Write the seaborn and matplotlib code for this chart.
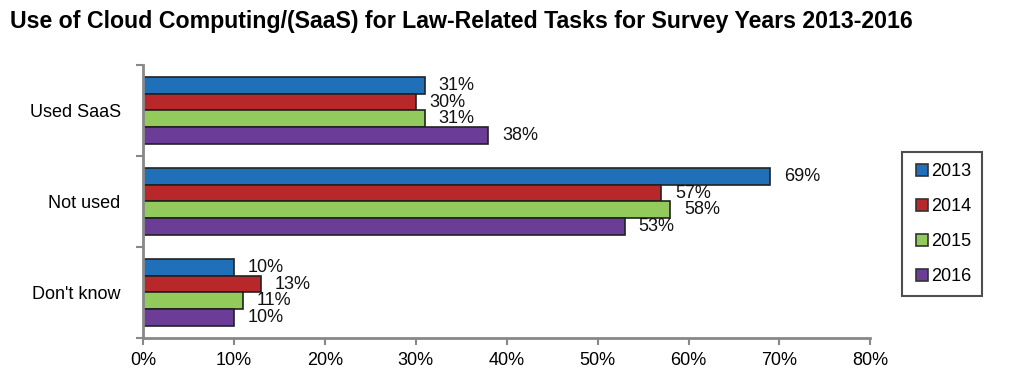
import matplotlib
matplotlib.use("Agg")
import matplotlib.pyplot as plt
from matplotlib.lines import Line2D
from matplotlib.ticker import FuncFormatter, FixedLocator
import pandas as pd
import seaborn as sns

categories = ["Used SaaS", "Not used", "Don't know"]
years = ["2013", "2014", "2015", "2016"]
values_2013 = [31, 69, 10]
values_2014 = [30, 57, 13]
values_2015 = [31, 58, 11]
values_2016 = [38, 53, 10]
colors = ["#1F70B8", "#B8272A", "#92CB5C", "#6B3D97"]

rows = []
for yr, vals in zip(years, [values_2013, values_2014, values_2015, values_2016]):
    for cat, v in zip(categories, vals):
        rows.append({"answer": cat, "year": yr, "pct": v})
df = pd.DataFrame(rows)

sns.set_style("white")
plt.rcParams["font.family"] = ["Liberation Sans", "DejaVu Sans"]
plt.rcParams["text.color"] = "black"
plt.rcParams["xtick.labelcolor"] = "black"
plt.rcParams["ytick.labelcolor"] = "black"

fig = plt.figure(figsize=(10.16, 3.84), dpi=100)
ax = fig.add_axes([0.1407, 0.12, 0.716, 0.711])

sns.barplot(data=df, x="pct", y="answer", hue="year", order=categories,
            hue_order=years, palette=colors, saturation=1, width=0.73, orient="h",
            edgecolor="#222222", linewidth=1.2, legend=False, ax=ax)

for cont in ax.containers:
    ax.bar_label(cont, labels=[f"{v:.0f}%" for v in cont.datavalues],
                 padding=10, fontsize=13, color="#111111")

ax.set_xlim(0, 80)
ax.set_ylim(2.5, -0.5)
ax.set_xticks(range(0, 81, 10))
ax.xaxis.set_major_formatter(FuncFormatter(lambda v, p: f"{v:.0f}%"))
ax.set_xlabel("")
ax.set_ylabel("")

ax.tick_params(axis="y", which="major", length=0, pad=16, labelsize=13)
ax.yaxis.set_minor_locator(FixedLocator([-0.5, 0.5, 1.5, 2.5]))
ax.tick_params(axis="y", which="minor", length=5, width=1.5, color="#888888", direction="out", left=True)
ax.tick_params(axis="x", length=5, width=1.5, color="#888888", direction="out", bottom=True, labelsize=13, pad=5)

for side in ["top", "right"]:
    ax.spines[side].set_visible(False)
for side in ["left", "bottom"]:
    ax.spines[side].set_color("#888888")
    ax.spines[side].set_linewidth(2)

handles = [Line2D([0], [0], marker="s", linestyle="", markersize=9,
                  markerfacecolor=c, markeredgecolor="#333333", markeredgewidth=1.2)
           for c in colors]
leg = fig.legend(handles, years, loc="upper left", bbox_to_anchor=(0.888, 0.604),
                 fontsize=13, frameon=True, fancybox=False, edgecolor="#222222",
                 labelspacing=1.0, handletextpad=0.0, handlelength=1.0,
                 borderpad=0.6, borderaxespad=0)
leg.get_frame().set_linewidth(1.5)

fig.text(0.010, 0.945, "Use of Cloud Computing/(SaaS) for Law-Related Tasks for Survey Years 2013-2016",
         fontsize=16.7, fontweight="bold", ha="left", va="center")

fig.savefig("out.png", dpi=100)
